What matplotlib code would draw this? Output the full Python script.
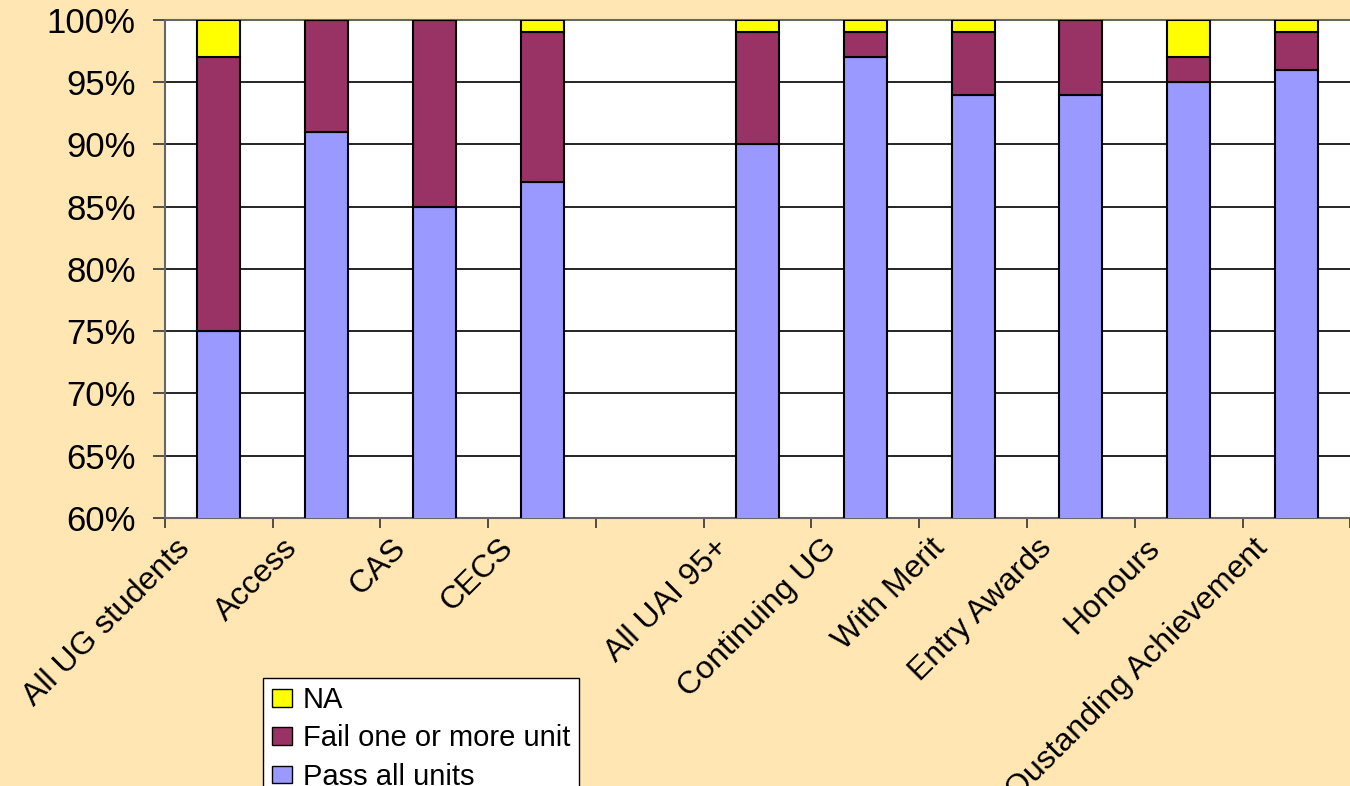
import matplotlib.pyplot as plt
from matplotlib.transforms import ScaledTranslation

plt.rcParams['font.family'] = ['Liberation Sans', 'DejaVu Sans']

categories = ["All UG students", "Access", "CAS", "CECS", "",
              "All UAI 95+", "Continuing UG", "With Merit", "Entry Awards",
              "Honours", "Oustanding Achievement"]
pass_all = [75, 91, 85, 87, 0, 90, 97, 94, 94, 95, 96]
fail_one = [22, 9, 15, 12, 0, 9, 2, 5, 6, 2, 3]
na = [3, 0, 0, 1, 0, 1, 1, 1, 0, 3, 1]

bg = '#FFE6B3'
fig = plt.figure(figsize=(13.5, 7.86), dpi=100, facecolor=bg)
ax = fig.add_axes([0.1222, 0.341, 0.878, 0.6336])
ax.set_facecolor('white')

x = [i + 0.5 for i in range(len(categories))]
bottom2 = [p + f for p, f in zip(pass_all, fail_one)]
kw = dict(width=0.4, edgecolor='black', linewidth=1.5, zorder=3)
b1 = ax.bar(x, pass_all, color='#9999FF', label='Pass all units', **kw)
b2 = ax.bar(x, fail_one, bottom=pass_all, color='#993366', label='Fail one or more unit', **kw)
b3 = ax.bar(x, na, bottom=bottom2, color='#FFFF00', label='NA', **kw)

ax.set_ylim(60, 100)
ax.set_xlim(0, 11)
ax.set_yticks(range(60, 101, 5))
ax.set_yticklabels([f"{v}%" for v in range(60, 101, 5)], fontsize=25)
ax.yaxis.grid(True, color='black', linewidth=1.2, zorder=0)
ax.tick_params(axis='y', length=9, width=1.2, color='#333333', pad=12)
ax.tick_params(axis='x', length=7, width=1.2, color='#333333', pad=4)

ax.set_xticks(range(12))
ax.set_xticklabels(categories + [""], rotation=45, ha='right',
                   rotation_mode='anchor', fontsize=23)
offset = ScaledTranslation(0.1, 0, fig.dpi_scale_trans)
for lab in ax.get_xticklabels():
    lab.set_transform(lab.get_transform() + offset)

for side in ['left', 'bottom', 'top']:
    ax.spines[side].set_color('#666666')
    ax.spines[side].set_linewidth(1.5)
ax.spines['right'].set_visible(False)

leg = fig.legend(handles=[b3, b2, b1], loc='upper left',
                 bbox_to_anchor=(0.195, 0.138), fontsize=21,
                 frameon=True, fancybox=False, edgecolor='black',
                 framealpha=1, facecolor='white',
                 handlelength=0.7, handleheight=0.55, handletextpad=0.35,
                 labelspacing=0.35, borderpad=0.3, borderaxespad=0)
leg.get_frame().set_linewidth(1.0)
for h in leg.legend_handles:
    h.set_linewidth(1.0)

fig.savefig('out.png', dpi=100, facecolor=bg)
